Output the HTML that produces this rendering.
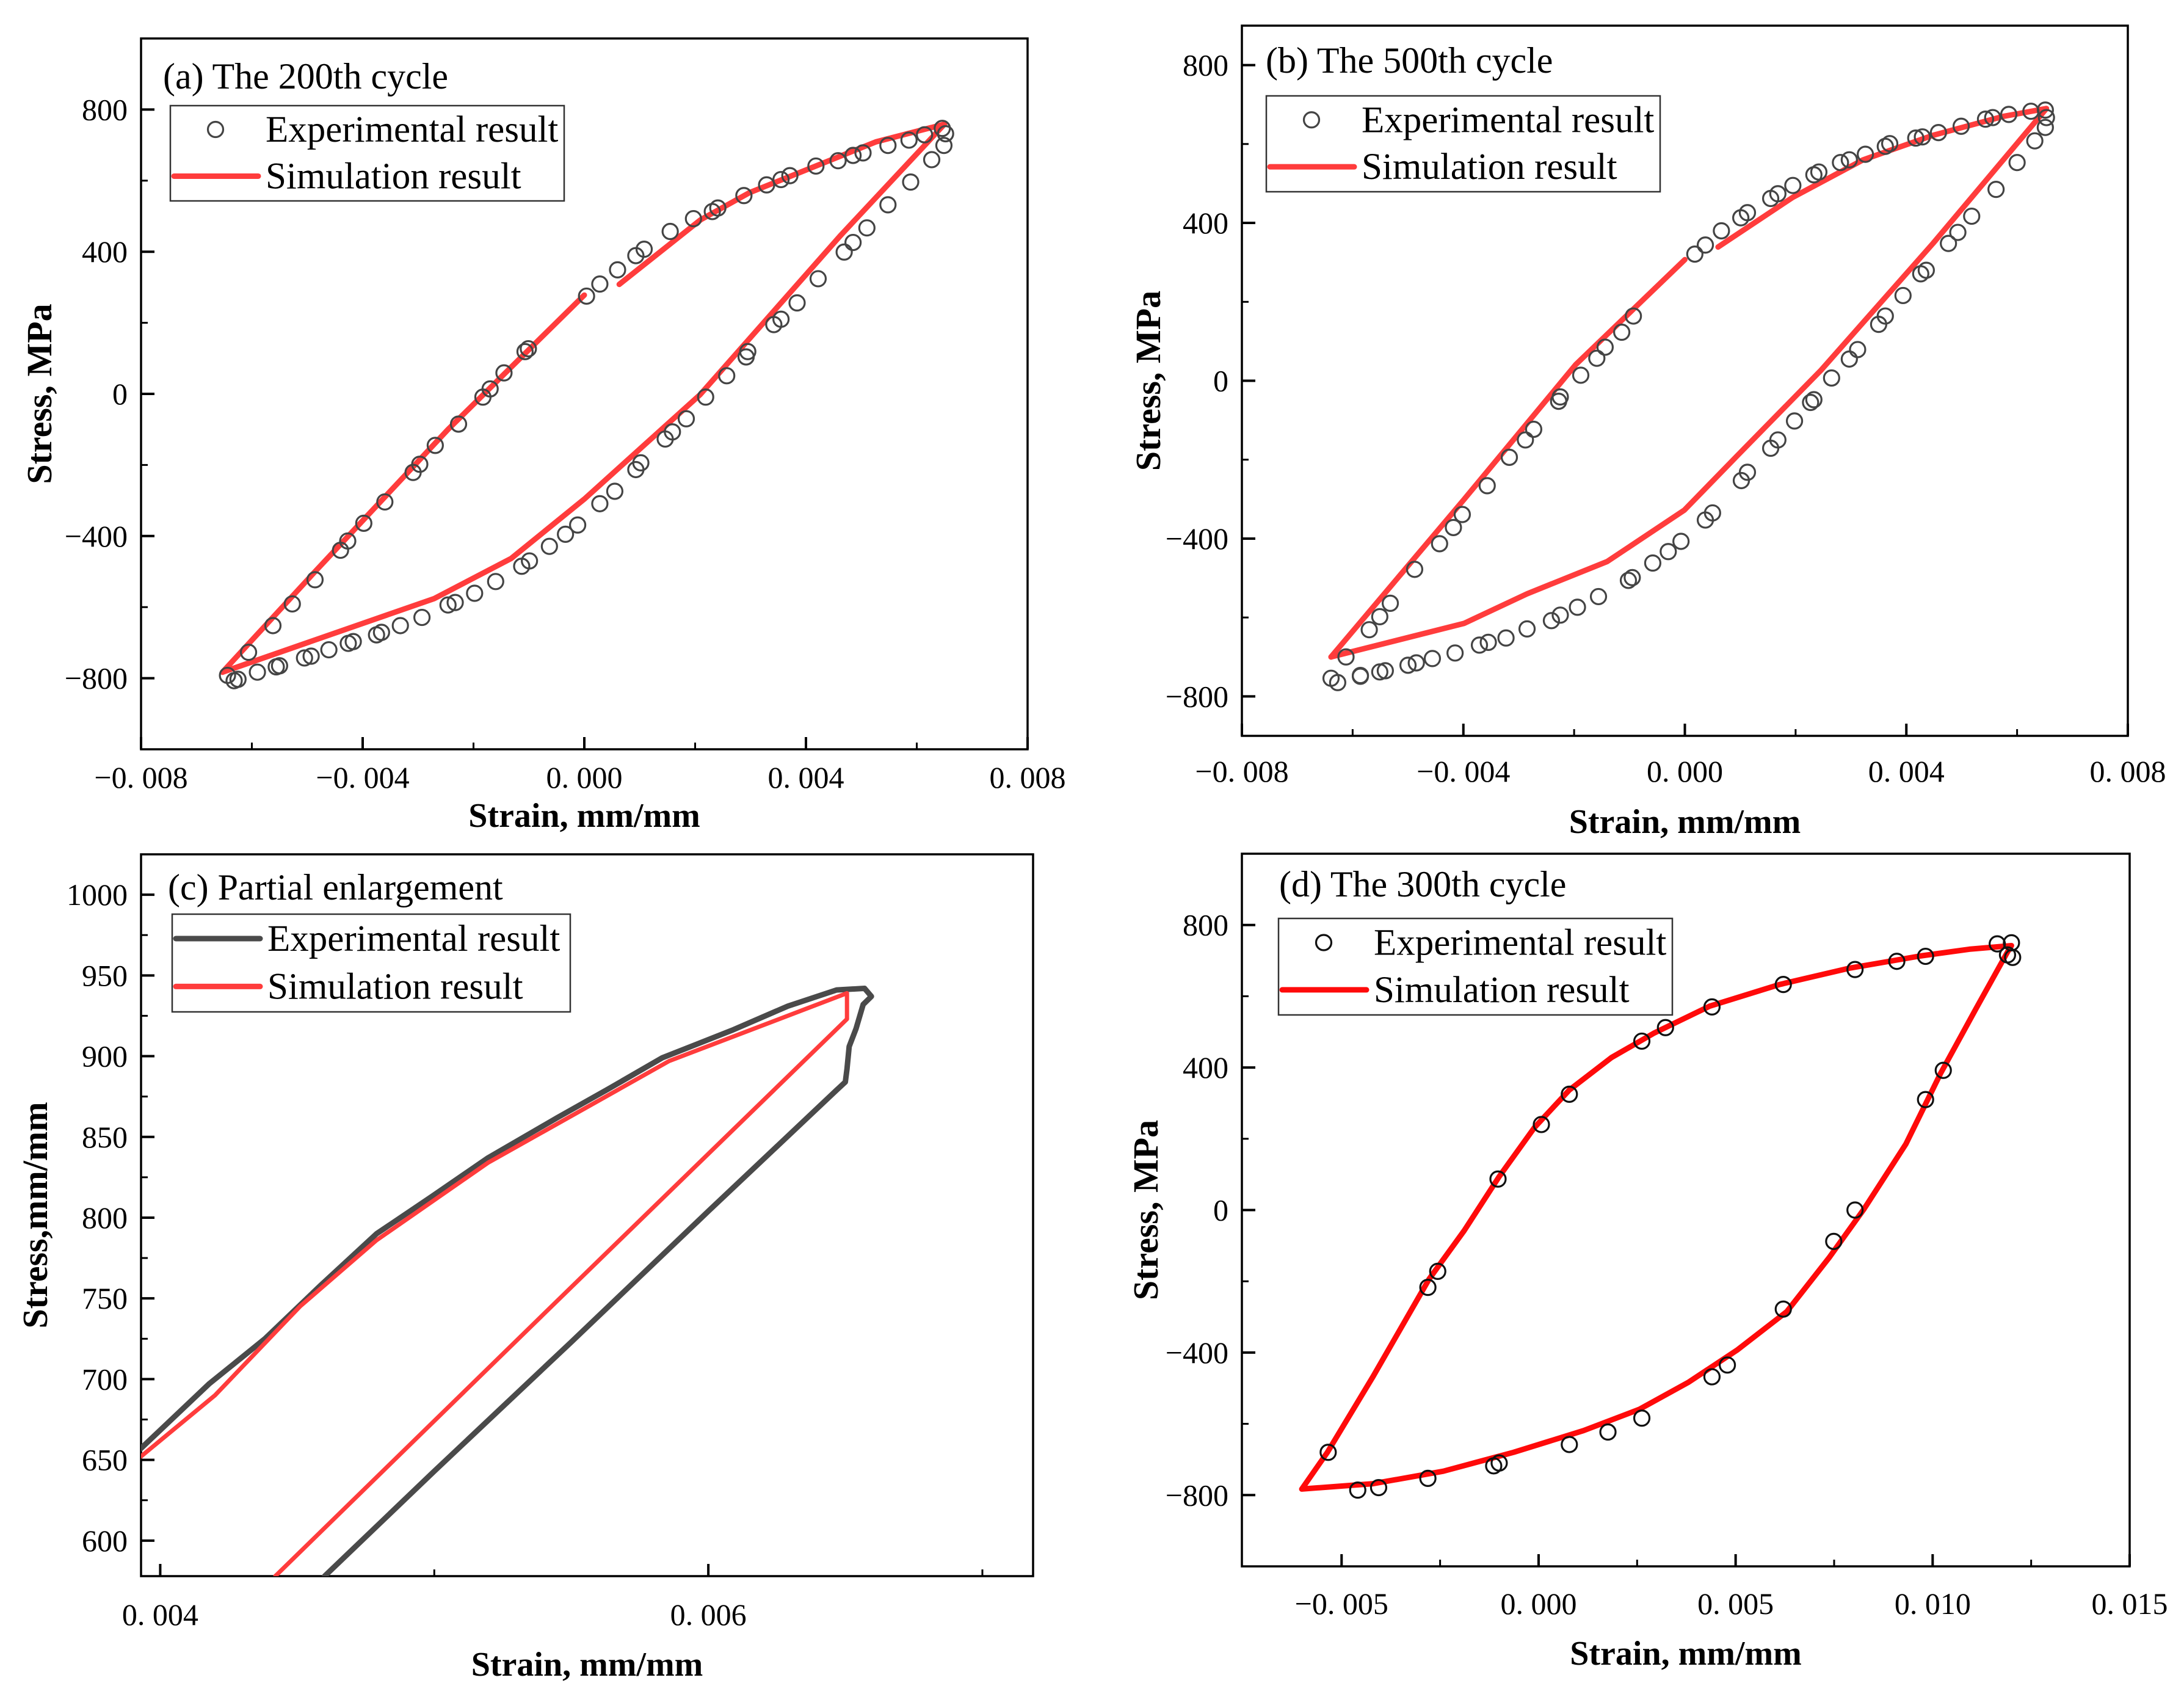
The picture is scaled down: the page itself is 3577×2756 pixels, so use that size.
<!DOCTYPE html>
<html><head><meta charset="utf-8">
<style>
html,body{margin:0;padding:0;background:#fff;}
svg{display:block;}
text{font-family:"Liberation Serif","Noto Serif CJK SC",serif;fill:#000;}
</style></head>
<body>
<svg id="fig" xmlns="http://www.w3.org/2000/svg" width="3577" height="2756" viewBox="0 0 3577 2756"></svg>
<script>
// ===== Data (strain in units of 1e-3 mm/mm, stress in MPa) =====
// Panel (a) 200th cycle
const aExpStrain = [-6.44,-6.25,-6.06,-5.62,-5.27,-4.86,-4.40,-4.27,-3.98,-3.60,-3.09,-2.97,-2.69,-2.27,-1.83,-1.70,-1.45,-1.07,-1.01,0.04,0.28,0.60,0.93,1.08,1.55,1.97,2.31,2.41,2.88,3.29,3.55,3.71,4.18,4.58,4.85,5.03,5.48,5.86,6.14,6.46,6.52,
 6.49,6.27,5.89,5.48,5.10,4.85,4.69,4.22,3.84,3.55,3.42,2.95,2.92,2.57,2.19,1.84,1.59,1.46,1.02,0.93,0.55,0.28,-0.12,-0.34,-0.63,-0.99,-1.13,-1.60,-1.98,-2.33,-2.46,-2.93,-3.32,-3.66,-3.75,-4.17,-4.26,-4.61,-4.93,-5.05,-5.50,-5.56,-5.90,-6.32];
const aExpStress = [-792,-803,-727,-652,-591,-523,-440,-414,-364,-304,-221,-198,-145,-85,-9,14,59,119,127,275,309,349,389,407,457,493,513,523,558,588,603,614,641,656,671,678,699,714,729,747,732,
 699,659,596,532,467,426,399,324,256,210,195,119,104,51,-9,-70,-107,-127,-194,-213,-274,-309,-369,-395,-429,-470,-485,-528,-561,-587,-594,-629,-652,-671,-678,-697,-702,-720,-738,-743,-765,-768,-783,-807];
const aSim1Strain = [-6.53,-4.86,-2.46,0.0];
const aSim1Stress = [-783,-500,-100,278];
const aSim2Strain = [0.63,2.10,2.98,5.26,6.50,4.62,2.09,0.0,-1.32,-2.71,-6.53];
const aSim2Stress = [308,490,566,709,759,445,-2,-296,-463,-576,-783];

// Panel (b) 500th cycle
const bExpStrain = [-6.39,-6.27,-6.12,-5.86,-5.70,-5.51,-5.32,-4.88,-4.43,-4.18,-4.02,-3.57,-3.17,-2.88,-2.73,-2.28,-2.25,-1.88,-1.59,-1.44,-1.14,-0.93,0.18,0.37,0.66,1.01,1.13,1.55,1.68,1.95,2.33,2.42,2.81,2.97,3.26,3.62,3.70,4.17,4.29,4.58,4.99,5.43,5.56,5.85,6.25,6.51,6.53,6.51,
 6.32,6.00,5.62,5.18,4.93,4.76,4.36,4.26,3.94,3.62,3.50,3.12,2.97,2.65,2.33,2.27,1.98,1.68,1.55,1.13,1.02,0.50,0.37,-0.07,-0.30,-0.58,-0.95,-1.02,-1.56,-1.94,-2.25,-2.41,-2.85,-3.23,-3.55,-3.71,-4.15,-4.56,-4.85,-5.00,-5.41,-5.51,-5.86];
const bExpStress = [-754,-765,-700,-749,-631,-598,-564,-478,-413,-372,-339,-266,-194,-150,-123,-52,-41,14,57,85,123,164,321,344,380,413,426,462,474,495,522,529,553,560,574,594,601,615,618,629,645,663,667,675,683,686,667,642,
 608,553,485,417,376,348,280,271,216,164,143,79,55,7,-48,-55,-102,-150,-171,-232,-253,-335,-353,-407,-433,-462,-499,-506,-547,-574,-594,-608,-629,-652,-663,-670,-690,-704,-715,-721,-735,-738,-747];
const bSim1Strain = [-6.39,-3.99,-1.97,0.0];
const bSim1Stress = [-700,-301,41,307];
const bSim2Strain = [0.60,1.95,3.22,4.48,5.75,6.53,4.48,2.46,0.94,-0.01,-1.40,-2.85,-3.99,-6.39];
const bSim2Stress = [339,465,560,622,670,690,348,27,-191,-328,-458,-540,-615,-700];

// Panel (c) partial enlargement
const cExpStrain = [3.929,4.178,4.382,4.585,4.789,4.99,5.196,5.45,5.628,5.832,6.086,6.29,6.468,6.57,6.595,6.565,6.539,6.514,6.506,6.50,6.468,6.0,5.5,5.0,4.60];
const cExpStress = [657,697,725,758,790,813,837,862,879,899,916,931,941,942,937,932,917,906,892,884,879,804,723,643,578];
const cSimStrain = [3.929,4.2,4.51,4.789,5.196,5.857,6.506,6.506,5.5,4.42];
const cSimStress = [652,690,745,786,834,897,939,923,757,578];

// Panel (d) 300th cycle
const dExpStrain = [-5.34,-4.59,-4.06,-2.81,-2.81,-2.56,-1.14,-1.00,-1.03,0.07,0.78,0.78,1.76,2.62,2.62,3.22,4.40,4.40,4.79,6.21,6.21,7.49,8.03,8.03,9.09,9.82,9.82,10.27,11.64,12.0,12.03,11.9];
const dExpStress = [-680,-786,-779,-753,-217,-172,-718,-710,87,240,325,-658,-623,-584,474,512,570,-468,-435,633,-278,-88,0,675,698,712,310,392,747,750,709,716];
const dSimStrain = [-6.01,-5.36,-4.20,-2.78,-1.89,-1.00,-0.11,0.78,1.85,2.92,4.34,6.12,7.90,9.68,10.93,12.0,11.9,11.1,10.2,9.32,8.26,7.37,6.30,5.05,3.81,2.56,1.14,-0.64,-2.42,-4.20,-6.01];
const dSimStress = [-783,-680,-467,-194,-58,94,231,337,428,496,572,633,679,713,732,742,724,565,383,185,3,-134,-285,-392,-483,-559,-619,-680,-733,-768,-783];

// Tick arrays
const aXTicks = [-8,-4,0,4,8];
const aXTickLabels = ["\u22120. 008","\u22120. 004","0. 000","0. 004","0. 008"];
const aXMinor = [-6,-2,2,6];
const aYTicks = [-800,-400,0,400,800];
const aYTickLabels = ["\u2212800","\u2212400","0","400","800"];
const aYMinor = [-1000,-600,-200,200,600,1000];
const bYMinor = [-600,-200,200,600];
const cXTicks = [4,6];
const cXTickLabels = ["0. 004","0. 006"];
const cXMinor = [5,7];
const cYTicks = [600,650,700,750,800,850,900,950,1000];
const cYTickLabels = ["600","650","700","750","800","850","900","950","1000"];
const cYMinor = [625,675,725,775,825,875,925,975];
const dXTicks = [-5,0,5,10,15];
const dXTickLabels = ["\u22120. 005","0. 000","0. 005","0. 010","0. 015"];
const dXMinor = [-2.5,2.5,7.5,12.5];

// ===== Drawing =====
const NS = "http://www.w3.org/2000/svg";
const fig = document.getElementById('fig');
function mk(tag, attrs, parent){
  const e = document.createElementNS(NS, tag);
  for (const k in attrs) e.setAttribute(k, attrs[k]);
  (parent||fig).appendChild(e);
  return e;
}

function panel(cfg){
  const g = mk('g', {});
  
  
  const L=cfg.box[0], T=cfg.box[1], R=cfg.box[2], B=cfg.box[3];
  const sx = v => L + (v - cfg.xr[0])/(cfg.xr[1]-cfg.xr[0])*(R-L);
  const sy = v => B - (v - cfg.yr[0])/(cfg.yr[1]-cfg.yr[0])*(B-T);
  const cid = cfg.name + '-clip';
  const defs = mk('defs', {}, g);
  const cp = mk('clipPath', {id: cid}, defs);
  mk('rect', {x:L, y:T, width:R-L, height:B-T}, cp);

  const fr = mk('rect', {x:L, y:T, width:R-L, height:B-T, fill:'none', stroke:'#000', 'stroke-width':3.5}, g);
  
  
  cfg.xt.forEach((v,i)=>{
    const t = mk('line', {x1:sx(v), x2:sx(v), y1:B, y2:B-20, stroke:'#000', 'stroke-width':4}, g);
    
    
    const tx = mk('text', {x:sx(v), y:cfg.xlabY, 'text-anchor':'middle', 'font-size':50}, g);
    tx.textContent = cfg.xtl[i];
    
    
  });
  cfg.xm.forEach(v=>{
    const t = mk('line', {x1:sx(v), x2:sx(v), y1:B, y2:B-11, stroke:'#000', 'stroke-width':3}, g);
    
    
  });
  cfg.yt.forEach((v,i)=>{
    const t = mk('line', {x1:L, x2:L+22, y1:sy(v), y2:sy(v), stroke:'#000', 'stroke-width':4}, g);
    
    
    const tx = mk('text', {x:L-22, y:sy(v)+17, 'text-anchor':'end', 'font-size':50}, g);
    tx.textContent = cfg.ytl[i];
    
    
  });
  cfg.ym.forEach(v=>{
    if (v < cfg.yr[0] || v > cfg.yr[1]) return;
    const t = mk('line', {x1:L, x2:L+11, y1:sy(v), y2:sy(v), stroke:'#000', 'stroke-width':3}, g);
    
    
  });
  const xtT = mk('text', {x:(L+R)/2, y:cfg.xTitleY, 'text-anchor':'middle', 'font-size':56, 'font-weight':'bold'}, g);
  xtT.textContent = 'Strain, mm/mm';
  
  
  const cy = (T+B)/2;
  const ytT = mk('text', {x:cfg.yTitleX, y:cy, 'text-anchor':'middle', 'font-size':58, 'font-weight':'bold', transform:`rotate(-90 ${cfg.yTitleX} ${cy})`, dy:20}, g);
  ytT.textContent = cfg.yTitle;
  
  

  const dg = mk('g', {'clip-path':`url(#${cid})`}, g);
  const pathD = (xs, ys) => xs.map((x,i)=>(i?'L':'M')+sx(x).toFixed(1)+' '+sy(ys[i]).toFixed(1)).join(' ');
  cfg.lines.forEach(ln=>{
    const p = mk('path', {d:pathD(ln.x, ln.y), fill:'none', stroke:ln.color, 'stroke-width':ln.w, 'stroke-linejoin':'round', 'stroke-linecap':'round'}, dg);
    
    
  });
  if (cfg.pts){
    cfg.pts.x.forEach((x,i)=>{
      const c = mk('circle', {cx:sx(x), cy:sy(cfg.pts.y[i]), r:12.5, fill:'none', stroke:cfg.ptColor, 'stroke-width':3.2}, dg);
      
      
    });
  }
  const tt = mk('text', {x:cfg.titlePos[0], y:cfg.titlePos[1], 'font-size':60}, g);
  tt.textContent = cfg.title;
  
  
  const lg = mk('g', {}, g);
  
  
  const [lx, ly, lr, lb] = cfg.legend;
  mk('rect', {x:lx, y:ly, width:lr-lx, height:lb-ly, fill:'#fff', stroke:'#333', 'stroke-width':2.5}, lg);
  const r1 = ly + (lb-ly)*0.25, r2 = ly + (lb-ly)*0.74;
  if (cfg.legendExpLine){
    const l = mk('line', {x1:lx+6, x2:lx+144, y1:r1, y2:r1, stroke:'#4a4a4a', 'stroke-width':9, 'stroke-linecap':'round'}, lg);
    
    
  } else {
    const c = mk('circle', {cx:lx+74, cy:r1, r:12.5, fill:'none', stroke:cfg.ptColor, 'stroke-width':3.2}, lg);
    
    
  }
  const l2 = mk('line', {x1:lx+6, x2:lx+144, y1:r2, y2:r2, stroke:cfg.simColor, 'stroke-width':9, 'stroke-linecap':'round'}, lg);
  
  
  const t1 = mk('text', {x:lx+156, y:r1+20, 'font-size':61}, lg);
  t1.textContent = 'Experimental result';
  
  
  const t2 = mk('text', {x:lx+156, y:r2+20, 'font-size':61}, lg);
  t2.textContent = 'Simulation result';
  
  
}

const RED = '#ff3c3c';
panel({name:'panel-a-200th-cycle', box:[231,63,1683,1227], xr:[-8,8], yr:[-1000,1000],
  xt:aXTicks, xtl:aXTickLabels, xm:aXMinor, yt:aYTicks, ytl:aYTickLabels, ym:aYMinor,
  xlabY:1290, xTitleY:1354, yTitleX:64, yTitle:'Stress, MPa',
  lines:[{x:aSim1Strain,y:aSim1Stress,color:RED,w:9,name:'simulation-line'},{x:aSim2Strain,y:aSim2Stress,color:RED,w:9,name:'simulation-line'}],
  pts:{x:aExpStrain,y:aExpStress}, ptColor:'#444', simColor:RED,
  title:'(a) The 200th cycle', titlePos:[267,145], legend:[279,173,924,329]});

panel({name:'panel-b-500th-cycle', box:[2034,42,3485,1205], xr:[-8,8], yr:[-900,900],
  xt:aXTicks, xtl:aXTickLabels, xm:aXMinor, yt:aYTicks, ytl:aYTickLabels, ym:bYMinor,
  xlabY:1280, xTitleY:1364, yTitleX:1880, yTitle:'Stress, MPa',
  lines:[{x:bSim1Strain,y:bSim1Stress,color:RED,w:9,name:'simulation-line'},{x:bSim2Strain,y:bSim2Stress,color:RED,w:9,name:'simulation-line'}],
  pts:{x:bExpStrain,y:bExpStress}, ptColor:'#444', simColor:RED,
  title:'(b) The 500th cycle', titlePos:[2073,119], legend:[2074,157,2719,314]});

panel({name:'panel-c-partial-enlargement', box:[231,1399,1692,2581], xr:[3.93,7.185], yr:[578,1025],
  xt:cXTicks, xtl:cXTickLabels, xm:cXMinor, yt:cYTicks, ytl:cYTickLabels, ym:cYMinor,
  xlabY:2661, xTitleY:2744, yTitleX:57, yTitle:'Stress,mm/mm',
  lines:[{x:cExpStrain,y:cExpStress,color:'#4a4a4a',w:9,name:'experimental-line'},{x:cSimStrain,y:cSimStress,color:RED,w:7,name:'simulation-line'}],
  pts:null, ptColor:'#444', simColor:RED, legendExpLine:true,
  title:'(c) Partial enlargement', titlePos:[275,1473], legend:[282,1497,934,1657]});

panel({name:'panel-d-300th-cycle', box:[2034,1398,3488,2565], xr:[-7.53,15], yr:[-1000,1000],
  xt:dXTicks, xtl:dXTickLabels, xm:dXMinor, yt:aYTicks, ytl:aYTickLabels, ym:aYMinor,
  xlabY:2643, xTitleY:2726, yTitleX:1876, yTitle:'Stress, MPa',
  lines:[{x:dSimStrain,y:dSimStress,color:'#ff0a0a',w:9,name:'simulation-line'}],
  pts:{x:dExpStrain,y:dExpStress}, ptColor:'#111', simColor:'#ff0a0a',
  title:'(d) The 300th cycle', titlePos:[2095,1468], legend:[2094,1504,2739,1662]});
</script>
</body></html>
